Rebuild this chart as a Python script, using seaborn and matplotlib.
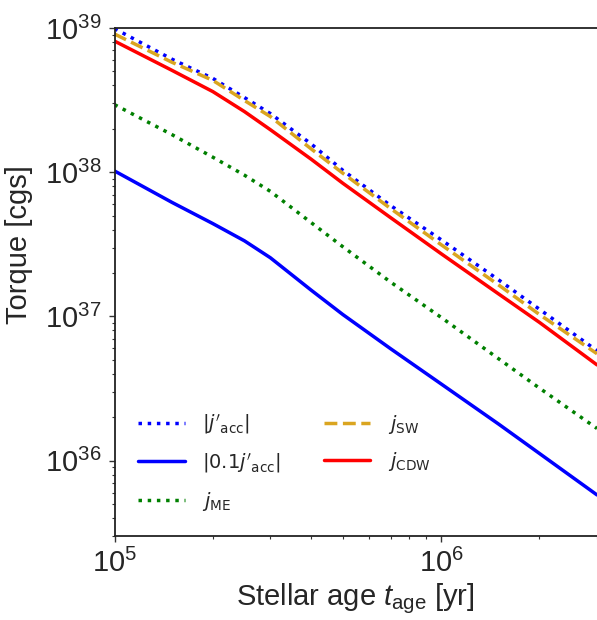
import matplotlib
matplotlib.use("Agg")
import matplotlib.pyplot as plt
from matplotlib.font_manager import FontProperties
from matplotlib.ticker import NullFormatter
import seaborn as sns
import pandas as pd

# stellar age [yr]
t_age = [1.0e5, 1.5e5, 2.0e5, 2.5e5, 3.0e5, 4.0e5, 5.0e5, 7.0e5,
         1.0e6, 1.5e6, 2.0e6, 3.0e6]

# torques [cgs]
j_acc = [9.9e38, 6.07e38, 4.47e38, 3.29e38, 2.55e38, 1.57e38, 1.03e38, 5.87e37,
         3.40e37, 1.79e37, 1.12e37, 5.78e36]
j_acc01 = [1.02e38, 6.17e37, 4.40e37, 3.34e37, 2.55e37, 1.52e37, 1.03e37, 5.97e36,
           3.40e36, 1.79e36, 1.12e36, 5.78e35]
j_me = [2.94e38, 1.82e38, 1.27e38, 9.53e37, 7.36e37, 4.47e37, 3.04e37, 1.73e37,
        9.84e36, 5.08e36, 3.18e36, 1.67e36]
j_sw = [9.08e38, 5.78e38, 4.33e38, 3.14e38, 2.43e38, 1.45e38, 9.84e37, 5.60e37,
        3.14e37, 1.65e37, 1.03e37, 5.51e36]
j_cdw = [8.11e38, 5.08e38, 3.62e38, 2.63e38, 1.97e38, 1.23e38, 8.38e37, 4.84e37,
         2.72e37, 1.43e37, 9.08e36, 4.61e36]

labels = [r"$|j'_{\rm acc}|$", r"$|0.1j'_{\rm acc}|$", r"$j_{\rm ME}$",
          r"$j_{\rm SW}$", r"$j_{\rm CDW}$"]

sns.set_style("ticks")
plt.rcParams["font.family"] = ["Liberation Sans", "DejaVu Sans"]
plt.rcParams["mathtext.fontset"] = "custom"
plt.rcParams["mathtext.rm"] = "Liberation Sans"
plt.rcParams["mathtext.it"] = "Liberation Sans:italic"
plt.rcParams["mathtext.bf"] = "Liberation Sans:bold"

df = pd.DataFrame({"t": t_age, "acc": j_acc, "acc01": j_acc01,
                   "me": j_me, "sw": j_sw, "cdw": j_cdw})

fig = plt.figure(figsize=(5.97, 6.2), dpi=100)
ax = fig.add_axes([0.1918, 0.1355, 0.8082, 0.8194])

lw = 2.5
sns.lineplot(data=df, x="t", y="acc", ax=ax, color="blue", ls=":", lw=lw, label=labels[0])
sns.lineplot(data=df, x="t", y="acc01", ax=ax, color="blue", ls="-", lw=lw, label=labels[1])
sns.lineplot(data=df, x="t", y="me", ax=ax, color="green", ls=":", lw=lw, label=labels[2])
sns.lineplot(data=df, x="t", y="sw", ax=ax, color="goldenrod", ls="--", lw=lw, label=labels[3])
sns.lineplot(data=df, x="t", y="cdw", ax=ax, color="red", ls="-", lw=lw, label=labels[4])

ax.set_xscale("log")
ax.set_yscale("log")
ax.set_xlim(1e5, 3e6)
ax.set_ylim(3e35, 1e39)
ax.xaxis.set_minor_formatter(NullFormatter())
ax.yaxis.set_minor_formatter(NullFormatter())

ax.set_xlabel(r"Stellar age $t_{\rm age}$ [yr]", fontsize=21, labelpad=2)
ax.set_ylabel("Torque [cgs]", fontsize=21)
ax.yaxis.set_label_coords(-0.168, 0.573)
ax.tick_params(which="major", labelsize=21, length=4.5, width=1, pad=5, color="#333333")
ax.tick_params(which="minor", length=2.5, width=0.8, color="#333333")

for side in ["left", "bottom", "top"]:
    ax.spines[side].set_linewidth(1.3)
    ax.spines[side].set_color("#222222")
ax.spines["right"].set_visible(False)

leg_font = FontProperties(family="DejaVu Sans", size=14, math_fontfamily="dejavusans")
ax.legend(ncol=2, frameon=False, loc="lower left", prop=leg_font,
          handlelength=2.4, handletextpad=0.9, columnspacing=2.2, labelspacing=0.75,
          borderaxespad=0.8)

fig.savefig("out.png", dpi=100)
plt.close(fig)
